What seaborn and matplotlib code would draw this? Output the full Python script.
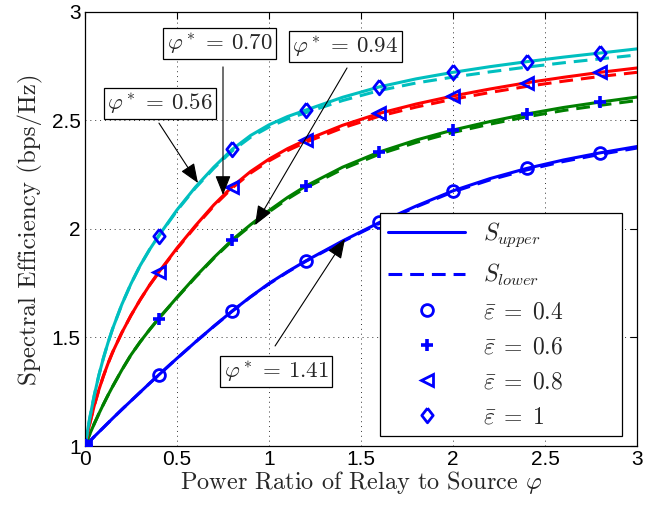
import numpy as np
import pandas as pd
import matplotlib
matplotlib.use("Agg")
import matplotlib.pyplot as plt
from matplotlib.lines import Line2D
import seaborn as sns

# ---------------- data ----------------
x_vals = [0, 0.025, 0.05, 0.075, 0.1, 0.125, 0.15, 0.2, 0.25, 0.3, 0.35, 0.4, 0.5, 0.6, 0.7,
          0.8, 0.9, 1.0, 1.1, 1.2, 1.4, 1.6, 1.8, 2.0, 2.2, 2.4, 2.6, 2.8, 3.0]

# eps = 0.4 (blue)
upper_04 = [1.0, 1.021, 1.043, 1.064, 1.085, 1.106, 1.127, 1.168, 1.208, 1.248, 1.288, 1.327,
            1.404, 1.479, 1.552, 1.622, 1.688, 1.749, 1.803, 1.853, 1.945, 2.030, 2.106, 2.176,
            2.232, 2.279, 2.318, 2.351, 2.380]
lower_04 = [1.0, 1.021, 1.043, 1.064, 1.085, 1.106, 1.127, 1.168, 1.208, 1.248, 1.288, 1.327,
            1.404, 1.479, 1.551, 1.621, 1.687, 1.747, 1.801, 1.851, 1.942, 2.026, 2.102, 2.171,
            2.226, 2.272, 2.311, 2.344, 2.373]
# eps = 0.6 (green)
upper_06 = [1.0, 1.053, 1.102, 1.148, 1.192, 1.234, 1.274, 1.350, 1.420, 1.480, 1.535, 1.587,
            1.685, 1.780, 1.868, 1.950, 2.020, 2.085, 2.145, 2.198, 2.285, 2.355, 2.410, 2.456,
            2.495, 2.530, 2.560, 2.585, 2.608]
lower_06 = [1.0, 1.053, 1.102, 1.148, 1.192, 1.234, 1.274, 1.350, 1.420, 1.480, 1.535, 1.587,
            1.683, 1.777, 1.865, 1.946, 2.015, 2.079, 2.138, 2.190, 2.276, 2.345, 2.399, 2.445,
            2.483, 2.517, 2.546, 2.570, 2.592]
# eps = 0.8 (red)
upper_08 = [1.0, 1.100, 1.185, 1.258, 1.322, 1.380, 1.432, 1.522, 1.602, 1.674, 1.740, 1.800,
            1.912, 2.015, 2.111, 2.195, 2.265, 2.322, 2.370, 2.410, 2.478, 2.533, 2.576, 2.613,
            2.645, 2.674, 2.699, 2.722, 2.742]
lower_08 = [1.0, 1.100, 1.185, 1.258, 1.322, 1.380, 1.432, 1.522, 1.602, 1.674, 1.740, 1.798,
            1.909, 2.011, 2.106, 2.189, 2.258, 2.314, 2.361, 2.400, 2.466, 2.520, 2.562, 2.598,
            2.629, 2.657, 2.681, 2.703, 2.722]
# eps = 1 (cyan)
upper_10 = [1.0, 1.125, 1.232, 1.325, 1.405, 1.476, 1.540, 1.652, 1.748, 1.832, 1.904, 1.968,
            2.088, 2.193, 2.285, 2.367, 2.431, 2.480, 2.518, 2.548, 2.607, 2.655, 2.692, 2.722,
            2.748, 2.771, 2.792, 2.811, 2.830]
lower_10 = [1.0, 1.125, 1.232, 1.325, 1.405, 1.476, 1.540, 1.652, 1.748, 1.832, 1.904, 1.966,
            2.085, 2.189, 2.280, 2.360, 2.423, 2.470, 2.507, 2.536, 2.592, 2.638, 2.673, 2.700,
            2.724, 2.746, 2.766, 2.784, 2.802]

marker_x = [0, 0.4, 0.8, 1.2, 1.6, 2.0, 2.4, 2.8]
eps_labels = ["0.4", "0.6", "0.8", "1"]
xticks = [0, 0.5, 1, 1.5, 2, 2.5, 3]
xtick_labels = ["0", "0.5", "1", "1.5", "2", "2.5", "3"]
yticks = [1, 1.5, 2, 2.5, 3]
ytick_labels = ["1", "1.5", "2", "2.5", "3"]
phi_star = ["0.56", "0.70", "0.94", "1.41"]

# ---------------- build long table ----------------
rows = []
for eps, up, lo in zip(eps_labels, [upper_04, upper_06, upper_08, upper_10],
                       [lower_04, lower_06, lower_08, lower_10]):
    for xv, u, l in zip(x_vals, up, lo):
        rows.append(dict(eps=eps, bound="upper", x=xv, y=u))
        rows.append(dict(eps=eps, bound="lower", x=xv, y=l))
df = pd.DataFrame(rows)

# ---------------- style ----------------
sns.set_style("white")
plt.rcParams["mathtext.fontset"] = "cm"
plt.rcParams["font.family"] = ["Liberation Sans", "DejaVu Sans"]

line_colors = {"0.4": (0, 0, 1), "0.6": (0, 0.5, 0), "0.8": (1, 0, 0), "1": (0, 0.75, 0.75)}
diamond = [(0, 1), (0.78, 0), (0, -1), (-0.78, 0), (0, 1)]
marker_shapes = {"0.4": "o", "0.6": "+", "0.8": "<", "1": diamond}
marker_sizes = {"0.4": 8.5, "0.6": 8, "0.8": 8.5, "1": 10.5}

fig = plt.figure(figsize=(6.59, 5.07), dpi=100)
ax = fig.add_axes([85 / 659, 61 / 507, 552 / 659, 434 / 507])

LW = 2.2
DASH = (4.5, 2.6)
sns.lineplot(data=df, x="x", y="y", hue="eps", style="bound", palette=line_colors,
             dashes={"upper": "", "lower": DASH}, style_order=["upper", "lower"],
             linewidth=LW, legend=False, ax=ax, estimator=None, sort=False)

# markers on the upper curves
mk = df[(df["bound"] == "upper") & (df["x"].round(3).isin(marker_x))]
for eps in eps_labels:
    sub = mk[mk["eps"] == eps]
    m = marker_shapes[eps]
    if eps == "0.6":
        ax.plot(sub["x"], sub["y"], linestyle="none", marker="+", markersize=marker_sizes[eps],
                markeredgewidth=2.6, color="blue", zorder=5)
    else:
        ax.plot(sub["x"], sub["y"], linestyle="none", marker=m, markersize=marker_sizes[eps],
                markerfacecolor="none", markeredgecolor="blue", markeredgewidth=2.0, zorder=5)

ax.set_xlim(0, 3)
ax.set_ylim(1, 3)
ax.set_xticks(xticks)
ax.set_xticklabels(xtick_labels)
ax.set_yticks(yticks)
ax.set_yticklabels(ytick_labels)
ax.tick_params(direction="in", length=5, width=0.8, top=True, right=True,
               labelsize=15, pad=3, colors="black")
for s in ax.spines.values():
    s.set_visible(True)
    s.set_color("black")
    s.set_linewidth(0.9)
ax.grid(True, color="black", linestyle=(0, (1, 4)), linewidth=0.7, alpha=0.8)

ax.set_xlabel(r"Power Ratio of Relay to Source $\varphi$", fontsize=17.5,
              family="cmr10", labelpad=0)
ax.set_ylabel("Spectral Efficiency (bps/Hz)", fontsize=18, family="cmr10", labelpad=6)

# ---------------- annotations ----------------
box_pos = [(0.408, 2.578), (0.731, 2.853), (1.416, 2.841), (1.038, 1.343)]
arrow_start = [(0.402, 2.488), (0.750, 2.747), (1.424, 2.742), (1.033, 1.461)]
arrow_tip = [(0.614, 2.212), (0.750, 2.157), (0.924, 2.018), (1.413, 1.954)]
for ps, bp, st, tp in zip(phi_star, box_pos, arrow_start, arrow_tip):
    ax.text(bp[0], bp[1], r"$\varphi^*\,=\,%s$" % ps, fontsize=16.5, ha="center", va="center",
            bbox=dict(boxstyle="square,pad=0.14", fc="white", ec="black", lw=0.9), zorder=6)
    ax.annotate("", xy=tp, xytext=st,
                arrowprops=dict(arrowstyle="-|>,head_length=0.6,head_width=0.24",
                                mutation_scale=20, color="black", lw=0.8,
                                shrinkA=0, shrinkB=0), zorder=6)

# ---------------- legend ----------------
handles = [Line2D([], [], color="blue", lw=LW),
           Line2D([], [], color="blue", lw=LW, dashes=DASH),
           Line2D([], [], color="blue", ls="none", marker="o", markersize=8.5,
                  mfc="none", mec="blue", mew=2.0),
           Line2D([], [], color="blue", ls="none", marker="+", markersize=8, mew=2.6),
           Line2D([], [], color="blue", ls="none", marker="<", markersize=8.5,
                  mfc="none", mec="blue", mew=2.0),
           Line2D([], [], color="blue", ls="none", marker=diamond, markersize=10.5,
                  mfc="none", mec="blue", mew=2.0)]
labels = [r"$S_{upper}$", r"$S_{lower}$"] + [r"$\bar{\varepsilon}\;=\;%s$" % e for e in eps_labels]
leg = ax.legend(handles, labels, loc="lower left", bbox_to_anchor=(0.534, 0.023, 0.439, 0.5),
                mode="expand", fontsize=17, frameon=True, fancybox=False, framealpha=1,
                edgecolor="black", handlelength=3.3, handletextpad=0.75,
                labelspacing=0.55, borderpad=0.33, borderaxespad=0)
leg.get_frame().set_linewidth(0.9)
leg.set_zorder(7)

fig.savefig("out.png", dpi=100, facecolor="white")
